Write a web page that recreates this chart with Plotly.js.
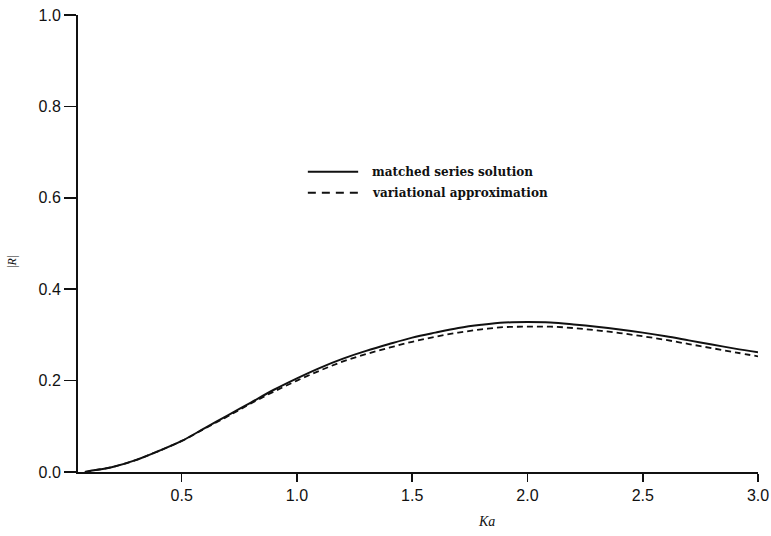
<!DOCTYPE html>
<html>
<head>
<meta charset="utf-8">
<script src="https://cdn.plot.ly/plotly-3.0.1.min.js"></script>
<style>html,body{margin:0;padding:0;background:#fff;}#chart{width:771px;height:536px;}</style>
</head>
<body>
<div id="chart"></div>
<script>
var ka = [0.08, 0.1, 0.2, 0.3, 0.4, 0.5, 0.6, 0.7, 0.8, 0.9, 1.0, 1.1, 1.2, 1.3, 1.4, 1.5, 1.6, 1.7, 1.8, 1.9, 2.0, 2.1, 2.2, 2.3, 2.4, 2.5, 2.6, 2.7, 2.8, 2.9, 3.0];
var matchedSeries = [0.0, 0.002, 0.011, 0.026, 0.046, 0.068, 0.096, 0.124, 0.152, 0.180, 0.205, 0.228, 0.248, 0.265, 0.280, 0.294, 0.305, 0.315, 0.322, 0.327, 0.328, 0.327, 0.323, 0.318, 0.312, 0.305, 0.297, 0.288, 0.279, 0.270, 0.262];
var variational = [0.0, 0.002, 0.011, 0.026, 0.046, 0.068, 0.095, 0.122, 0.150, 0.176, 0.200, 0.222, 0.242, 0.258, 0.272, 0.285, 0.296, 0.305, 0.312, 0.317, 0.318, 0.318, 0.315, 0.310, 0.304, 0.297, 0.289, 0.280, 0.271, 0.262, 0.253];
var xTicks = [0.5, 1.0, 1.5, 2.0, 2.5, 3.0];
var yTicks = [0.0, 0.2, 0.4, 0.6, 0.8, 1.0];
var seriesNames = ['matched series solution', 'variational approximation'];
var xTitle = '<i>Ka</i>';
var yTitle = '|<i>R</i>|';

var solidStyle = {color: '#111', width: 2};
var dashStyle = {color: '#111', width: 1.8, dash: '6px,4px'};

var traces = [
  {x: ka, y: matchedSeries, name: seriesNames[0], mode: 'lines', line: Object.assign({shape: 'spline'}, solidStyle), showlegend: false},
  {x: ka, y: variational, name: seriesNames[1], mode: 'lines', line: Object.assign({shape: 'spline'}, dashStyle), showlegend: false}
];

var legendFont = {family: 'DejaVu Serif', size: 12, color: '#111', weight: 'bold'};
var legendRows = [0.657, 0.611];
var shapes = [], annotations = [];
[solidStyle, {color: '#111', width: 1.8, dash: '8px,6px'}].forEach(function(st, i){
  shapes.push({type: 'line', xref: 'paper', yref: 'paper', x0: 0.338, x1: 0.412, y0: legendRows[i], y1: legendRows[i], line: st});
  annotations.push({xref: 'paper', yref: 'paper', x: 0.429, y: legendRows[i], xanchor: 'left', yanchor: 'middle',
    text: seriesNames[i], showarrow: false, font: legendFont});
});
annotations.push({xref: 'paper', yref: 'paper', x: 0.601, y: -0.109, xanchor: 'center', yanchor: 'middle',
  text: xTitle, showarrow: false, font: {family: 'Liberation Serif', size: 14, color: '#111'}});
annotations.push({xref: 'paper', yref: 'paper', x: -0.097, y: 0.46, xanchor: 'center', yanchor: 'middle', textangle: -90,
  text: yTitle, showarrow: false, font: {family: 'Liberation Serif', size: 12, color: '#111'}});

var layout = {
  width: 771, height: 536,
  margin: {l: 78, r: 13, t: 15, b: 64},
  paper_bgcolor: '#fff', plot_bgcolor: '#fff',
  showlegend: false,
  shapes: shapes,
  annotations: annotations,
  xaxis: {
    range: [0.05, 3.0], tickvals: xTicks, ticktext: xTicks.map(function(v){return v.toFixed(1);}),
    ticks: 'outside', ticklen: 8, tickwidth: 1.5, tickcolor: '#111',
    showline: true, linecolor: '#111', linewidth: 2, showgrid: false, zeroline: false,
    tickfont: {family: 'Liberation Sans', size: 16, color: '#111'}
  },
  yaxis: {
    range: [0, 1.0], tickvals: yTicks, ticktext: yTicks.map(function(v){return v.toFixed(1);}),
    ticks: 'outside', ticklen: 12, tickwidth: 1.5, tickcolor: '#111',
    showline: true, linecolor: '#111', linewidth: 2, showgrid: false, zeroline: false,
    tickfont: {family: 'Liberation Sans', size: 16, color: '#111'}
  }
};

Plotly.newPlot('chart', traces, layout, {displayModeBar: false, staticPlot: true});
</script>
</body>
</html>
